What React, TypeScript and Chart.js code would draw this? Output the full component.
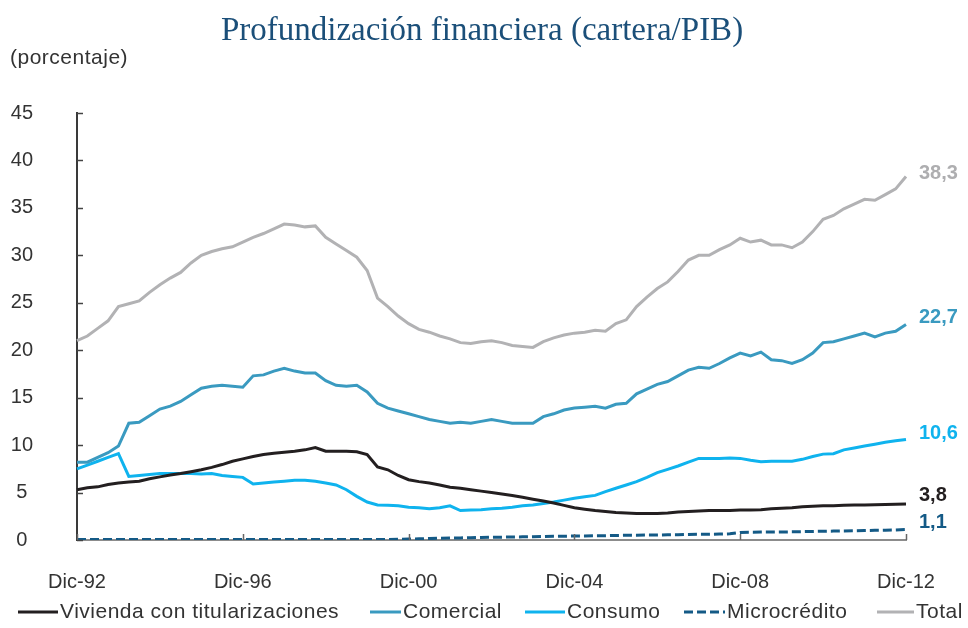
import { useEffect, useRef } from "react";
import { Chart, registerables } from "chart.js";

Chart.register(...registerables);

const quarters = [
  "Dic-92",
  "Mar-93", "Jun-93", "Sep-93", "Dic-93",
  "Mar-94", "Jun-94", "Sep-94", "Dic-94",
  "Mar-95", "Jun-95", "Sep-95", "Dic-95",
  "Mar-96", "Jun-96", "Sep-96", "Dic-96",
  "Mar-97", "Jun-97", "Sep-97", "Dic-97",
  "Mar-98", "Jun-98", "Sep-98", "Dic-98",
  "Mar-99", "Jun-99", "Sep-99", "Dic-99",
  "Mar-00", "Jun-00", "Sep-00", "Dic-00",
  "Mar-01", "Jun-01", "Sep-01", "Dic-01",
  "Mar-02", "Jun-02", "Sep-02", "Dic-02",
  "Mar-03", "Jun-03", "Sep-03", "Dic-03",
  "Mar-04", "Jun-04", "Sep-04", "Dic-04",
  "Mar-05", "Jun-05", "Sep-05", "Dic-05",
  "Mar-06", "Jun-06", "Sep-06", "Dic-06",
  "Mar-07", "Jun-07", "Sep-07", "Dic-07",
  "Mar-08", "Jun-08", "Sep-08", "Dic-08",
  "Mar-09", "Jun-09", "Sep-09", "Dic-09",
  "Mar-10", "Jun-10", "Sep-10", "Dic-10",
  "Mar-11", "Jun-11", "Sep-11", "Dic-11",
  "Mar-12", "Jun-12", "Sep-12", "Dic-12",
];

const tickLabels = ["Dic-92", "Dic-96", "Dic-00", "Dic-04", "Dic-08", "Dic-12"];

const vivienda = [
  5.3, 5.5, 5.6, 5.85, 6.0, 6.1, 6.2, 6.45, 6.65, 6.85,
  7.0, 7.2, 7.4, 7.65, 7.95, 8.3, 8.55, 8.8, 9.0, 9.15,
  9.25, 9.35, 9.5, 9.75, 9.35, 9.35, 9.35, 9.3, 9.0, 7.7,
  7.4, 6.8, 6.35, 6.15, 6.0, 5.8, 5.55, 5.45, 5.3, 5.15,
  5.0, 4.85, 4.7, 4.5, 4.3, 4.1, 3.9, 3.65, 3.4, 3.25,
  3.1, 3.0, 2.9, 2.85, 2.8, 2.8, 2.8, 2.85, 2.95, 3.0,
  3.05, 3.1, 3.1, 3.1, 3.15, 3.15, 3.2, 3.3, 3.35, 3.4,
  3.5, 3.55, 3.6, 3.6, 3.65, 3.7, 3.7, 3.72, 3.74, 3.77,
  3.8,
];

const comercial = [
  8.2, 8.2, 8.7, 9.2, 9.9, 12.3, 12.4, 13.1, 13.8, 14.1,
  14.6, 15.3, 16.0, 16.2, 16.3, 16.2, 16.1, 17.3, 17.4, 17.8,
  18.1, 17.8, 17.6, 17.6, 16.8, 16.3, 16.2, 16.3, 15.6, 14.4,
  13.9, 13.6, 13.3, 13.0, 12.7, 12.5, 12.3, 12.4, 12.3, 12.5,
  12.7, 12.5, 12.3, 12.3, 12.3, 13.0, 13.3, 13.7, 13.9, 14.0,
  14.1, 13.9, 14.3, 14.4, 15.4, 15.9, 16.4, 16.7, 17.3, 17.9,
  18.2, 18.1, 18.6, 19.2, 19.7, 19.4, 19.8, 19.0, 18.9, 18.6,
  19.0, 19.7, 20.8, 20.9, 21.2, 21.5, 21.8, 21.4, 21.8, 22.0,
  22.7,
];

const consumo = [
  7.5, 7.9, 8.3, 8.7, 9.1, 6.7, 6.8, 6.9, 7.0, 7.0,
  7.0, 7.0, 6.95, 7.0, 6.8, 6.7, 6.6, 5.9, 6.0, 6.1,
  6.2, 6.3, 6.3, 6.2, 6.0, 5.8, 5.3, 4.6, 4.0, 3.7,
  3.65, 3.6, 3.45, 3.4, 3.3, 3.4, 3.6, 3.1, 3.15, 3.2,
  3.3, 3.35, 3.45, 3.6, 3.7, 3.85, 4.0, 4.2, 4.4, 4.55,
  4.7, 5.1, 5.45, 5.8, 6.15, 6.6, 7.1, 7.45, 7.8, 8.2,
  8.6, 8.6, 8.6, 8.65, 8.6, 8.4, 8.25, 8.3, 8.3, 8.3,
  8.5, 8.8, 9.05, 9.1, 9.5, 9.7, 9.9, 10.1, 10.3, 10.45,
  10.6,
];

const microcredito = [
  0.05, 0.05, 0.05, 0.05, 0.05, 0.05, 0.05, 0.05, 0.05, 0.05,
  0.05, 0.05, 0.05, 0.05, 0.05, 0.05, 0.05, 0.05, 0.05, 0.05,
  0.05, 0.05, 0.05, 0.05, 0.05, 0.05, 0.05, 0.05, 0.05, 0.05,
  0.05, 0.08, 0.1, 0.12, 0.15, 0.18, 0.2, 0.22, 0.25, 0.27,
  0.3, 0.3, 0.32, 0.33, 0.35, 0.37, 0.4, 0.4, 0.42, 0.43,
  0.45, 0.46, 0.48, 0.5, 0.5, 0.52, 0.53, 0.55, 0.56, 0.58,
  0.6, 0.6, 0.62, 0.65, 0.8, 0.82, 0.83, 0.84, 0.85, 0.86,
  0.88, 0.9, 0.92, 0.94, 0.96, 0.98, 1.0, 1.02, 1.04, 1.06,
  1.1,
];

const total = [
  21.0, 21.5, 22.3, 23.1, 24.6, 24.9, 25.2, 26.1, 26.9, 27.6,
  28.2, 29.2, 30.0, 30.4, 30.7, 30.9, 31.4, 31.9, 32.3, 32.8,
  33.3, 33.2, 33.0, 33.1, 31.9, 31.2, 30.5, 29.8, 28.4, 25.5,
  24.6, 23.6, 22.8, 22.2, 21.9, 21.5, 21.2, 20.8, 20.7, 20.9,
  21.0, 20.8, 20.5, 20.4, 20.3, 20.9, 21.3, 21.6, 21.8, 21.9,
  22.1, 22.0, 22.8, 23.2, 24.6, 25.6, 26.5, 27.2, 28.3, 29.5,
  30.0, 30.0, 30.6, 31.1, 31.8, 31.4, 31.6, 31.1, 31.1, 30.8,
  31.4, 32.5, 33.8, 34.2, 34.9, 35.4, 35.9, 35.8, 36.4, 37.0,
  38.3,
];

const seriesNames = ["Vivienda con titularizaciones", "Comercial", "Consumo", "Microcrédito", "Total"];
const endLabels = ["3,8", "22,7", "10,6", "1,1", "38,3"];

const SANS = '"Liberation Sans", Arial, sans-serif';

export default function App() {
  const ref = useRef<HTMLCanvasElement>(null);

  useEffect(() => {
    if (!ref.current) return;
    const colors = ["#231f20", "#3a9ac0", "#0fb3ee", "#145a86", "#b2b2b4"];
    const labelColors = ["#231f20", "#3a9ac0", "#0fb3ee", "#145a86", "#aeaeb0"];
    const labelDy = [-8, -7, -6, -7, -3];
    const legendLines: [number, number][] = [[18, 58], [370, 401], [525, 565], [684, 725], [877, 914]];

    const decor = {
      id: "decor",
      afterDraw(chart: any) {
        const ctx = chart.ctx as CanvasRenderingContext2D;
        const xS = chart.scales.x;
        const yS = chart.scales.y;
        ctx.save();

        // inward tick marks on the y axis
        ctx.strokeStyle = "#444";
        ctx.lineWidth = 1.5;
        yS.ticks.forEach((t: any) => {
          const y = Math.round(yS.getPixelForValue(t.value)) + 0.5;
          ctx.beginPath();
          ctx.moveTo(xS.left, y);
          ctx.lineTo(xS.left + 6, y);
          ctx.stroke();
        });
        // inward tick marks on the x axis
        ctx.strokeStyle = "#666";
        tickLabels.forEach((lab) => {
          const idx = quarters.indexOf(lab);
          const x = Math.round(xS.getPixelForValue(idx)) + 0.5;
          ctx.beginPath();
          ctx.moveTo(x, yS.bottom);
          ctx.lineTo(x, yS.bottom - 6);
          ctx.stroke();
        });

        // end-of-line value labels
        ctx.font = `bold 20px ${SANS}`;
        ctx.textAlign = "left";
        ctx.textBaseline = "middle";
        chart.data.datasets.forEach((_ds: any, i: number) => {
          const meta = chart.getDatasetMeta(i);
          const pt = meta.data[meta.data.length - 1];
          ctx.fillStyle = labelColors[i];
          ctx.fillText(endLabels[i], pt.x + 13, pt.y + labelDy[i]);
        });

        // title
        ctx.font = `33px "Liberation Serif", "Times New Roman", serif`;
        ctx.fillStyle = "#1b4f79";
        ctx.textAlign = "center";
        ctx.textBaseline = "alphabetic";
        ctx.fillText("Profundización financiera (cartera/PIB)", 482, 40);

        // unit label
        (ctx as any).letterSpacing = "0.5px";
        ctx.font = `21px ${SANS}`;
        ctx.fillStyle = "#333";
        ctx.textAlign = "left";
        ctx.textBaseline = "middle";
        ctx.fillText("(porcentaje)", 10, 58);

        // legend
        const ly = 612;
        seriesNames.forEach((name, i) => {
          const [x0, x1] = legendLines[i];
          ctx.strokeStyle = colors[i];
          ctx.lineWidth = 3;
          ctx.setLineDash(i === 3 ? [9, 4] : []);
          ctx.beginPath();
          ctx.moveTo(x0, ly);
          ctx.lineTo(x1, ly);
          ctx.stroke();
          ctx.setLineDash([]);
          ctx.fillStyle = "#333";
          ctx.fillText(name, x1 + 2, ly);
        });
        ctx.restore();
      },
    };

    const datasets = [vivienda, comercial, consumo, microcredito, total].map((data, i) => ({
      label: seriesNames[i],
      data,
      borderColor: colors[i],
      backgroundColor: colors[i],
      borderWidth: 3,
      borderDash: i === 3 ? [9, 4] : [],
      pointRadius: 0,
      tension: 0,
      fill: false,
    }));

    const chart = new Chart(ref.current, {
      type: "line",
      data: { labels: quarters, datasets },
      options: {
        animation: false,
        responsive: true,
        maintainAspectRatio: false,
        layout: { padding: { top: 113, right: 62, bottom: 0, left: 0 } },
        plugins: {
          legend: { display: false },
          title: { display: false },
          tooltip: { enabled: false },
        },
        scales: {
          x: {
            type: "category",
            offset: false,
            grid: { display: false, drawTicks: false },
            border: { display: true, color: "#8c8c8c", width: 2 },
            afterFit: (s: any) => {
              s.height = 88;
            },
            ticks: {
              autoSkip: false,
              maxRotation: 0,
              minRotation: 0,
              padding: 30,
              color: "#333",
              font: { family: SANS, size: 20 },
              callback: (_v: any, idx: number) =>
                tickLabels.includes(quarters[idx]) ? quarters[idx] : "",
            },
          },
          y: {
            min: 0,
            max: 45,
            grid: { display: false, drawTicks: false },
            border: { display: true, color: "#3a3a3a", width: 2 },
            afterFit: (s: any) => {
              s.width = 77;
            },
            ticks: {
              stepSize: 5,
              padding: 44,
              crossAlign: "center",
              color: "#333",
              font: { family: SANS, size: 20 },
            },
          },
        },
      },
      plugins: [decor],
    });

    return () => chart.destroy();
  }, []);

  return (
    <div style={{ position: "absolute", left: 0, top: 0, width: 968, height: 628 }}>
      <canvas ref={ref} />
    </div>
  );
}
